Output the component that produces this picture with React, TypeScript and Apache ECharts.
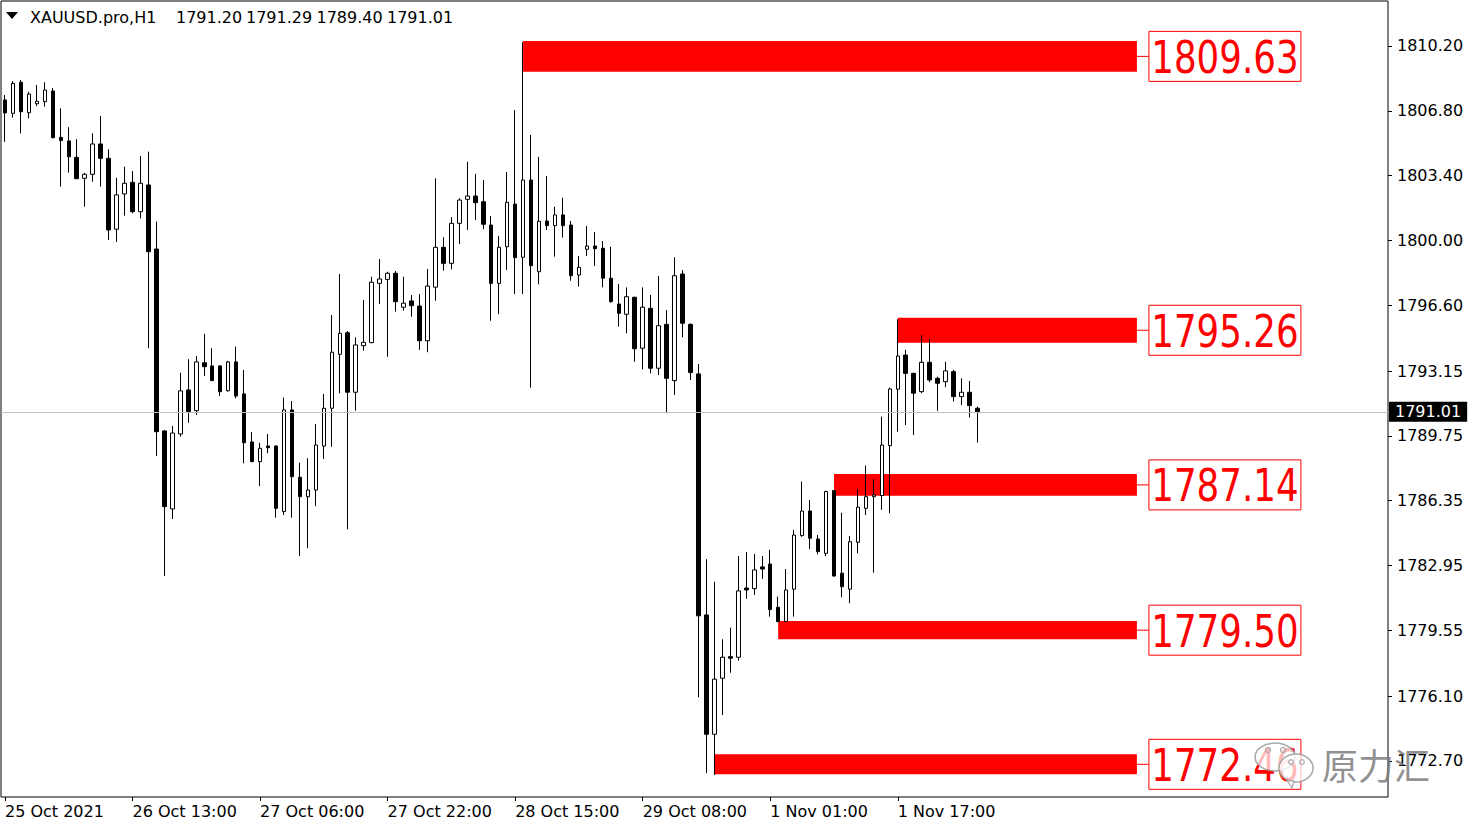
import React, { useEffect, useRef } from "react";
import * as echarts from "echarts";

// ---- candle data (XAUUSD.pro H1), bar 0 = 25 Oct 2021 20:00 ----
const open = [
  1807.37, 1806.67, 1808.30, 1806.70, 1807.17, 1807.28, 1807.84, 1805.41, 1805.22, 1804.36,
  1803.26, 1803.47, 1805.06, 1804.31, 1800.59, 1802.44, 1803.05, 1801.51, 1802.91, 1799.55,
  1790.01, 1785.92, 1789.85, 1792.16, 1791.07, 1793.59, 1793.42, 1793.42, 1792.12, 1793.63,
  1791.95, 1789.43, 1788.40, 1789.22, 1789.22, 1785.78, 1791.11, 1787.58, 1786.56, 1786.91,
  1789.22, 1791.20, 1794.03, 1795.16, 1792.04, 1794.48, 1794.64, 1797.75, 1797.96, 1798.28,
  1796.50, 1796.83, 1796.56, 1794.74, 1797.55, 1799.64, 1798.80, 1800.90, 1802.16, 1802.33,
  1802.03, 1800.81, 1797.75, 1799.67, 1801.91, 1799.12, 1803.17, 1798.36, 1801.02, 1800.78,
  1801.34, 1800.81, 1798.19, 1799.54, 1799.71, 1799.59, 1798.02, 1796.67, 1796.13, 1797.02,
  1794.35, 1796.44, 1793.30, 1795.60, 1792.65, 1798.24, 1795.60, 1793.00, 1780.36, 1774.10,
  1777.04, 1778.17, 1778.14, 1781.77, 1781.74, 1782.88, 1783.03, 1780.76, 1780.01, 1781.71,
  1784.52, 1785.81, 1784.34, 1783.59, 1786.88, 1782.55, 1781.71, 1784.17, 1785.95, 1786.56,
  1786.62, 1789.24, 1792.20, 1793.99, 1793.03, 1792.07, 1793.61, 1792.77, 1792.59, 1793.12,
  1791.81, 1792.04, 1791.20,
];
const high = [
  1807.63, 1808.36, 1808.42, 1807.80, 1808.15, 1808.30, 1807.99, 1806.93, 1805.94, 1805.31,
  1803.54, 1805.62, 1806.53, 1804.78, 1803.29, 1803.87, 1803.64, 1804.43, 1804.66, 1800.99,
  1790.05, 1790.27, 1793.07, 1793.77, 1793.94, 1795.10, 1794.35, 1793.45, 1793.69, 1794.43,
  1793.21, 1789.96, 1789.39, 1789.85, 1789.25, 1791.76, 1791.58, 1788.35, 1788.58, 1790.37,
  1791.95, 1796.09, 1798.24, 1795.25, 1794.92, 1796.88, 1798.10, 1799.03, 1798.36, 1798.40,
  1798.10, 1797.14, 1797.19, 1798.50, 1803.26, 1800.17, 1801.22, 1802.21, 1804.13, 1803.49,
  1803.17, 1801.28, 1800.24, 1803.59, 1806.84, 1810.40, 1805.53, 1804.39, 1803.38, 1801.77,
  1802.24, 1801.02, 1799.19, 1800.76, 1800.45, 1799.97, 1799.67, 1797.72, 1797.54, 1797.05,
  1797.54, 1797.14, 1798.14, 1796.35, 1799.12, 1798.45, 1795.65, 1793.52, 1783.28, 1782.10,
  1779.08, 1779.69, 1783.45, 1783.66, 1783.56, 1783.45, 1783.77, 1781.32, 1782.77, 1784.82,
  1787.35, 1786.39, 1784.55, 1786.88, 1786.90, 1785.72, 1784.50, 1786.95, 1788.19, 1787.49,
  1790.76, 1792.28, 1795.87, 1794.26, 1793.06, 1795.04, 1794.82, 1792.86, 1793.64, 1793.21,
  1792.77, 1792.63, 1791.29,
];
const low = [
  1805.17, 1806.44, 1805.62, 1806.41, 1807.05, 1807.02, 1805.36, 1802.83, 1803.56, 1803.22,
  1801.77, 1803.08, 1802.83, 1800.03, 1799.92, 1801.30, 1801.43, 1801.16, 1794.35, 1788.70,
  1782.40, 1785.39, 1789.71, 1790.44, 1790.85, 1792.89, 1792.62, 1791.84, 1792.07, 1791.72,
  1788.31, 1788.37, 1787.12, 1788.84, 1785.46, 1785.60, 1785.46, 1783.45, 1783.86, 1786.07,
  1788.54, 1789.18, 1791.98, 1784.85, 1791.07, 1794.22, 1794.61, 1796.67, 1793.90, 1796.27,
  1796.32, 1796.00, 1794.26, 1794.14, 1796.84, 1798.42, 1798.49, 1799.82, 1800.55, 1801.07,
  1800.59, 1795.79, 1796.14, 1798.45, 1797.19, 1797.19, 1792.28, 1797.70, 1800.55, 1799.15,
  1800.15, 1797.89, 1797.58, 1799.19, 1798.66, 1797.54, 1796.74, 1795.48, 1795.13, 1793.64,
  1793.24, 1793.03, 1792.94, 1790.94, 1791.90, 1794.92, 1792.68, 1776.04, 1772.06, 1771.97,
  1775.11, 1777.33, 1777.96, 1781.20, 1781.41, 1782.25, 1780.27, 1779.98, 1779.98, 1780.27,
  1784.46, 1783.82, 1783.54, 1783.45, 1782.37, 1781.29, 1780.97, 1783.59, 1785.60, 1782.58,
  1785.87, 1785.69, 1789.97, 1790.32, 1789.80, 1791.99, 1792.56, 1791.06, 1792.30, 1791.55,
  1791.37, 1790.71, 1789.40,
];
const close = [
  1806.69, 1808.24, 1806.75, 1807.68, 1807.30, 1807.89, 1805.39, 1805.24, 1804.39, 1803.24,
  1803.47, 1805.06, 1804.31, 1800.55, 1802.39, 1803.00, 1801.51, 1803.00, 1799.41, 1789.97,
  1786.04, 1789.90, 1792.11, 1791.02, 1793.63, 1793.38, 1792.65, 1792.07, 1793.63, 1791.84,
  1789.39, 1788.40, 1789.10, 1789.13, 1785.95, 1791.11, 1787.61, 1786.56, 1786.91, 1789.27,
  1791.20, 1794.14, 1795.13, 1792.04, 1794.52, 1794.66, 1797.81, 1797.98, 1798.28, 1796.79,
  1796.71, 1796.58, 1794.74, 1797.61, 1799.64, 1798.80, 1800.90, 1802.12, 1802.33, 1801.98,
  1800.85, 1797.75, 1799.64, 1802.00, 1799.10, 1803.17, 1798.68, 1801.01, 1800.78, 1801.34,
  1800.78, 1798.15, 1798.59, 1799.71, 1799.57, 1798.02, 1796.79, 1796.18, 1797.05, 1794.32,
  1796.50, 1793.30, 1795.53, 1792.77, 1798.15, 1795.66, 1793.07, 1780.31, 1774.10, 1776.99,
  1778.14, 1778.09, 1781.62, 1781.67, 1782.72, 1782.77, 1780.64, 1780.01, 1781.67, 1784.55,
  1785.81, 1784.38, 1783.68, 1786.83, 1782.40, 1781.84, 1784.20, 1786.01, 1786.56, 1786.65,
  1789.27, 1792.21, 1793.94, 1793.03, 1791.99, 1793.61, 1792.68, 1792.51, 1793.16, 1791.81,
  1792.04, 1791.34, 1791.01,
];

// axis slots (bars + empty chart shift space on the right)
const totalSlots = 174;
const timeTickIndex = [0, 16, 32, 48, 64, 80, 96, 112];
const timeTickLabels = [
  "25 Oct 2021", "26 Oct 13:00", "27 Oct 06:00", "27 Oct 22:00",
  "28 Oct 15:00", "29 Oct 08:00", "1 Nov 01:00", "1 Nov 17:00",
];
const priceTicks = [
  1810.2, 1806.8, 1803.4, 1800.0, 1796.6, 1793.15, 1789.75, 1786.35, 1782.95, 1779.55, 1776.1, 1772.7,
];
const yMin = 1770.81;
const yMax = 1812.56;

// level rectangles
const levelLabels = ["1809.63", "1795.26", "1787.14", "1779.50", "1772.46"];
const levelStart = [65, 112, 104, 97, 89];
const levelEnd = [142, 142, 142, 142, 142];
const levelTop = [1810.46, 1795.94, 1787.75, 1780.04, 1773.05];
const levelBottom = [1808.85, 1794.64, 1786.61, 1779.08, 1772.0];

const symbolName = "XAUUSD.pro,H1";
const FONT = "'DejaVu Sans', Verdana, sans-serif";

export default function App() {
  const ref = useRef<HTMLDivElement>(null);

  useEffect(() => {
    if (!ref.current) return;
    const chart = echarts.init(ref.current, undefined, { renderer: "svg" });
    const categories = Array.from({ length: totalSlots }, (_, i) => String(i));
    const candleData = open.map((o, i) => [o, close[i], low[i], high[i]]);
    const last = close.length - 1;
    const showTick = (idx: number) => timeTickIndex.indexOf(idx) >= 0;
    const headerValues = [open[last], high[last], low[last], close[last]].map((v) => v.toFixed(2));
    const headerX = [176, 246, 316.5, 387];

    const wmStroke = "rgba(160,160,160,0.9)";
    const wmFill = "rgba(255,255,255,0.72)";

    const option: any = {
      animation: false,
      backgroundColor: "#ffffff",
      textStyle: { fontFamily: FONT },
      grid: {
        left: 1,
        top: 1,
        right: 92,
        bottom: 31,
        show: true,
        borderColor: "#000000",
        borderWidth: 1,
        backgroundColor: "transparent",
      },
      xAxis: {
        type: "category",
        data: categories,
        boundaryGap: true,
        axisLine: { show: false },
        axisTick: {
          show: true,
          interval: (idx: number) => showTick(idx),
          alignWithLabel: true,
          length: 4,
          lineStyle: { color: "#000" },
        },
        axisLabel: {
          interval: (idx: number) => showTick(idx),
          formatter: (value: string) => {
            const k = timeTickIndex.indexOf(Number(value));
            return k >= 0 ? timeTickLabels[k] : "";
          },
          align: "left",
          color: "#000",
          fontSize: 16,
          fontFamily: FONT,
          margin: 6,
        },
        splitLine: { show: false },
      },
      yAxis: {
        type: "value",
        position: "right",
        min: yMin,
        max: yMax,
        axisLine: { show: false },
        axisTick: {
          show: true,
          customValues: priceTicks,
          length: 4,
          lineStyle: { color: "#000" },
        },
        axisLabel: {
          customValues: priceTicks,
          formatter: (v: number) => v.toFixed(2),
          color: "#000",
          fontSize: 16,
          fontFamily: FONT,
          margin: 9,
        },
        splitLine: { show: false },
      },
      series: [
        {
          type: "custom",
          z: 1,
          data: levelStart.map((s, i) => [s, levelEnd[i], levelTop[i], levelBottom[i]]),
          encode: { x: [0, 1], y: [2, 3] },
          renderItem: (params: any, api: any) => {
            const i = params.dataIndex;
            const p1 = api.coord([api.value(0), api.value(2)]);
            const p2 = api.coord([api.value(1), api.value(3)]);
            const mid = (p1[1] + p2[1]) / 2;
            const bx = p2[0] + 12;
            return {
              type: "group",
              children: [
                {
                  type: "rect",
                  shape: { x: p1[0], y: p1[1], width: p2[0] - p1[0], height: p2[1] - p1[1] },
                  style: { fill: "#ff0000" },
                },
                {
                  type: "line",
                  shape: { x1: p2[0], y1: mid, x2: bx, y2: mid },
                  style: { stroke: "#ff0000", lineWidth: 1 },
                },
                {
                  type: "rect",
                  shape: { x: bx, y: mid - 25, width: 152, height: 50 },
                  style: { fill: "#ffffff", stroke: "#ff0000", lineWidth: 1 },
                },
                {
                  type: "text",
                  x: bx + 76,
                  y: mid + 1,
                  scaleX: 0.81,
                  style: {
                    text: levelLabels[i],
                    fill: "#ff0000",
                    fontSize: 44,
                    fontFamily: FONT,
                    align: "center",
                    verticalAlign: "middle",
                  },
                },
              ],
            };
          },
        },
        {
          type: "candlestick",
          z: 3,
          data: candleData,
          barWidth: 4,
          itemStyle: {
            color: "#ffffff",
            color0: "#000000",
            borderColor: "#000000",
            borderColor0: "#000000",
            borderColorDoji: "#000000",
            borderWidth: 1,
          },
          markLine: {
            silent: true,
            symbol: ["none", "none"],
            lineStyle: { color: "#c0c0c0", type: "solid", width: 1 },
            label: {
              show: true,
              position: "end",
              formatter: close[last].toFixed(2),
              backgroundColor: "#000000",
              color: "#ffffff",
              fontSize: 16,
              fontFamily: FONT,
              padding: [2, 6, 2, 6],
              distance: 1,
            },
            data: [{ yAxis: close[last] }],
          },
        },
      ],
      graphic: [
        {
          type: "polygon",
          shape: { points: [[6, 12], [18, 12], [12, 19]] },
          style: { fill: "#000" },
        },
        {
          type: "text",
          x: 30,
          y: 17,
          style: { text: symbolName, fill: "#000", fontSize: 16, fontFamily: FONT, verticalAlign: "middle" },
        },
        ...headerValues.map((t, k) => ({
          type: "text",
          x: headerX[k],
          y: 17,
          style: { text: t, fill: "#000", fontSize: 16, fontFamily: FONT, verticalAlign: "middle" },
        })),
        {
          type: "ellipse",
          z: 100,
          shape: { cx: 1275, cy: 757, rx: 20, ry: 14 },
          style: { fill: wmFill, stroke: wmStroke, lineWidth: 1.5 },
        },
        { type: "circle", z: 101, shape: { cx: 1268, cy: 750, r: 2.5 }, style: { fill: "none", stroke: "#aaa", lineWidth: 1.2 } },
        { type: "circle", z: 101, shape: { cx: 1283, cy: 750, r: 2.5 }, style: { fill: "none", stroke: "#aaa", lineWidth: 1.2 } },
        {
          type: "ellipse",
          z: 102,
          shape: { cx: 1296, cy: 768, rx: 17, ry: 14 },
          style: { fill: wmFill, stroke: wmStroke, lineWidth: 1.5 },
        },
        {
          type: "polygon",
          z: 102,
          shape: { points: [[1287, 780], [1292, 788], [1294, 781]] },
          style: { fill: wmFill, stroke: wmStroke, lineWidth: 1.2 },
        },
        { type: "circle", z: 103, shape: { cx: 1291, cy: 762, r: 2.3 }, style: { fill: "none", stroke: "#aaa", lineWidth: 1.2 } },
        { type: "circle", z: 103, shape: { cx: 1302, cy: 762, r: 2.3 }, style: { fill: "none", stroke: "#aaa", lineWidth: 1.2 } },
        {
          type: "text",
          z: 104,
          x: 1322,
          y: 764,
          style: {
            text: "原力汇",
            fontSize: 36,
            fontFamily: "'Noto Sans CJK SC', sans-serif",
            fill: "rgba(125,125,125,0.85)",
            verticalAlign: "middle",
          },
        },
      ],
    };

    chart.setOption(option);
    return () => chart.dispose();
  }, []);

  return (
    <div
      ref={ref}
      style={{ position: "fixed", left: 0, top: 0, width: 1480, height: 828, background: "#fff" }}
    />
  );
}
